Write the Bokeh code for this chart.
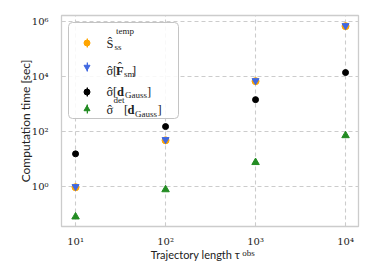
import math
from bokeh.plotting import figure
from bokeh.models import (ColumnDataSource, FixedTicker, Legend, LegendItem,
                          BoxAnnotation, Label, Range1d, LogAxis)
from bokeh.core.properties import value
from bokeh.embed import file_html
from bokeh.resources import INLINE

# ---------------- data ----------------
tau_obs = [10, 100, 1000, 10000]
t_ss_temp = [0.95, 48, 6800, 6.8e5]      # S_ss^temp (orange)
t_sigma_F = [1.0, 51, 7100, 7.1e5]       # sigma[F_sm] (blue)
t_sigma_d = [15.5, 152, 1450, 14000]     # sigma[d_Gauss] (black)
t_sigma_det = [0.08, 0.78, 7.6, 72]      # sigma^det[d_Gauss] (green)

x_ticks = [10, 100, 1000, 10000]
x_tick_labels = ["10\u00b9", "10\u00b2", "10\u00b3", "10\u2074"]
y_ticks = [1, 100, 10000, 1000000]
y_tick_labels = ["10\u2070", "10\u00b2", "10\u2074", "10\u2076"]

C_ORANGE = "#ffa500"
C_BLUE = "#4169e1"
C_BLACK = "#000000"
C_GREEN = "#228b22"

SERIF = "DejaVu Serif"
MATH = "Liberation Serif"
SANS = "Lato"
GRID = "#cccccc"
TXT = "#222222"

# frame placement (page pixels)
FL, FT, FW, FH = 61, 15, 297, 211
X0, X1 = 6.98, 13930

p = figure(width=374, height=280, x_axis_type="log", y_axis_type="log",
           x_range=Range1d(X0, X1), y_range=Range1d(0.0355, 1.66e6),
           output_backend="svg", toolbar_location=None,
           min_border_left=FL, min_border_right=374 - FL - FW,
           min_border_top=FT, min_border_bottom=280 - FT - FH)
p.frame_width = FW
p.frame_height = FH

p.outline_line_color = GRID
p.outline_line_width = 1.3
p.background_fill_color = "white"

for ax in (p.xaxis[0], p.yaxis[0]):
    ax.axis_line_color = None
    ax.major_tick_in = 4
    ax.major_tick_out = 0
    ax.major_tick_line_color = GRID
    ax.minor_tick_line_color = None
    ax.major_label_text_font = SERIF
    ax.major_label_text_font_size = "10px"
    ax.major_label_text_color = TXT

p.xaxis.ticker = FixedTicker(ticks=x_ticks)
p.yaxis.ticker = FixedTicker(ticks=y_ticks)
p.xaxis.major_label_overrides = {float(t): s for t, s in zip(x_ticks, x_tick_labels)}
p.yaxis.major_label_overrides = {float(t): s for t, s in zip(y_ticks, y_tick_labels)}
p.xaxis.major_label_standoff = 9
p.yaxis.major_label_standoff = 13

p.yaxis.axis_label = "Computation time [sec]"
p.yaxis.axis_label_text_font = SANS
p.yaxis.axis_label_text_font_size = "12px"
p.yaxis.axis_label_text_font_style = "normal"
p.yaxis.axis_label_standoff = -4
p.yaxis.axis_label_text_color = TXT

for g in (p.xgrid[0], p.ygrid[0]):
    g.grid_line_color = GRID
    g.grid_line_dash = "4 3"
    g.grid_line_width = 1.1
p.xgrid.ticker = FixedTicker(ticks=x_ticks)
p.ygrid.ticker = FixedTicker(ticks=y_ticks)

src = ColumnDataSource(dict(x=tau_obs, a=t_ss_temp, b=t_sigma_F,
                            c=t_sigma_d, d=t_sigma_det))
series = [("a", C_ORANGE, "circle", 7), ("b", C_BLUE, "inverted_triangle", 7),
          ("c", C_BLACK, "circle", 6), ("d", C_GREEN, "triangle", 7.5)]
dots, bars = [], []
for col_name, col, mk, size in series:
    # zero-height error bars (used as legend handles)
    bars.append(p.vbar(x="x", bottom=col_name, top=col_name, width=0,
                       source=src, fill_color=col, line_alpha=0))
for col_name, col, mk, size in series:
    dots.append(p.scatter("x", col_name, source=src, marker=mk, size=size,
                          fill_color=col, line_color=col))


def sx(x):
    return x - FL


def sy(y):
    return FT + FH - y


# ---------------- legend (custom, to allow sub/superscripts) ----------------
box = BoxAnnotation(left=sx(68), right=sx(178), top=sy(22), bottom=sy(118),
                    left_units="screen", right_units="screen",
                    top_units="screen", bottom_units="screen",
                    fill_color="white", fill_alpha=0.85,
                    line_color="#c4c4c4", line_alpha=1.0, line_width=1.0,
                    border_radius=4)
p.add_layout(box)

row_y = [42.3, 66.7, 91, 108.7]
for cy, bar, dot in zip(row_y, bars, dots):
    for rend, gw, gh in ((bar, 2, 11), (dot, 15, 15)):
        lg = Legend(items=[LegendItem(label=value(" "), renderers=[rend])],
                    location=(sx(86.7) - gw / 2, sy(cy) - gh / 2),
                    glyph_width=gw, glyph_height=gh, padding=0, margin=0,
                    label_width=0, label_height=1, label_standoff=0,
                    label_text_font_size="1px", border_line_color=None,
                    background_fill_alpha=0, spacing=0)
        p.add_layout(lg)


def lab(x, y, text, size=12.5, style="normal", font=MATH):
    p.add_layout(Label(x=sx(x), y=sy(y), x_units="screen", y_units="screen",
                       text=text, text_font=font, text_font_size=f"{size}px",
                       text_font_style=style, text_baseline="alphabetic",
                       text_align="left", text_color=TXT))


HAT = "\u02c6"
SIG = "\u03c3"
SUB = 9

# row 1: S_ss^temp
lab(106, 43, "\u015c")
lab(115.5, 30, "temp", SUB)
lab(114, 46, "ss", SUB)
# row 2: sigma[F_sm]
lab(106, 70, SIG)
lab(107.3, 70, HAT)
lab(112.5, 70, "[")
lab(115.5, 70, "F", 12.5, "bold")
lab(117.3, 66, HAT)
lab(123.5, 73, "sm", SUB)
lab(131.5, 70, "]")
# row 3: sigma[d_Gauss]
lab(106, 91, SIG)
lab(107.3, 91, HAT)
lab(112.5, 91, "[")
lab(116.5, 91, "d", 12.5, "bold")
lab(124.5, 94, "Gauss", SUB)
lab(146.5, 91, "]")
# row 4: sigma^det[d_Gauss]
lab(106, 109.5, SIG)
lab(107.3, 109.5, HAT)
lab(113, 99, "det", SUB)
lab(123.5, 109.5, "[")
lab(127, 109.5, "d", 12.5, "bold")
lab(134.5, 113, "Gauss", SUB)
lab(157, 109.5, "]")


# ---------------- x axis label: text-only axes (allows the subscript) ----------------
def px_to_x(px):
    lo, hi = math.log10(X0), math.log10(X1)
    return round(10 ** (lo + (px - FL) / FW * (hi - lo)), 3)


def text_axis(px_center, text, size, font, standoff):
    xv = px_to_x(px_center)
    ax = LogAxis(ticker=FixedTicker(ticks=[xv]),
                 major_label_overrides={xv: text},
                 axis_line_color=None, major_tick_line_color=None,
                 minor_tick_line_color=None, major_tick_in=0, major_tick_out=0,
                 major_label_standoff=standoff,
                 major_label_text_font=font,
                 major_label_text_font_size=f"{size}px",
                 major_label_text_color=TXT)
    p.add_layout(ax, "below")


text_axis(195, "Trajectory length \u03c4", 11, SANS, -2)
text_axis(248, "obs", SUB, MATH, -16)

open("out.html", "w").write(file_html(p, INLINE))
